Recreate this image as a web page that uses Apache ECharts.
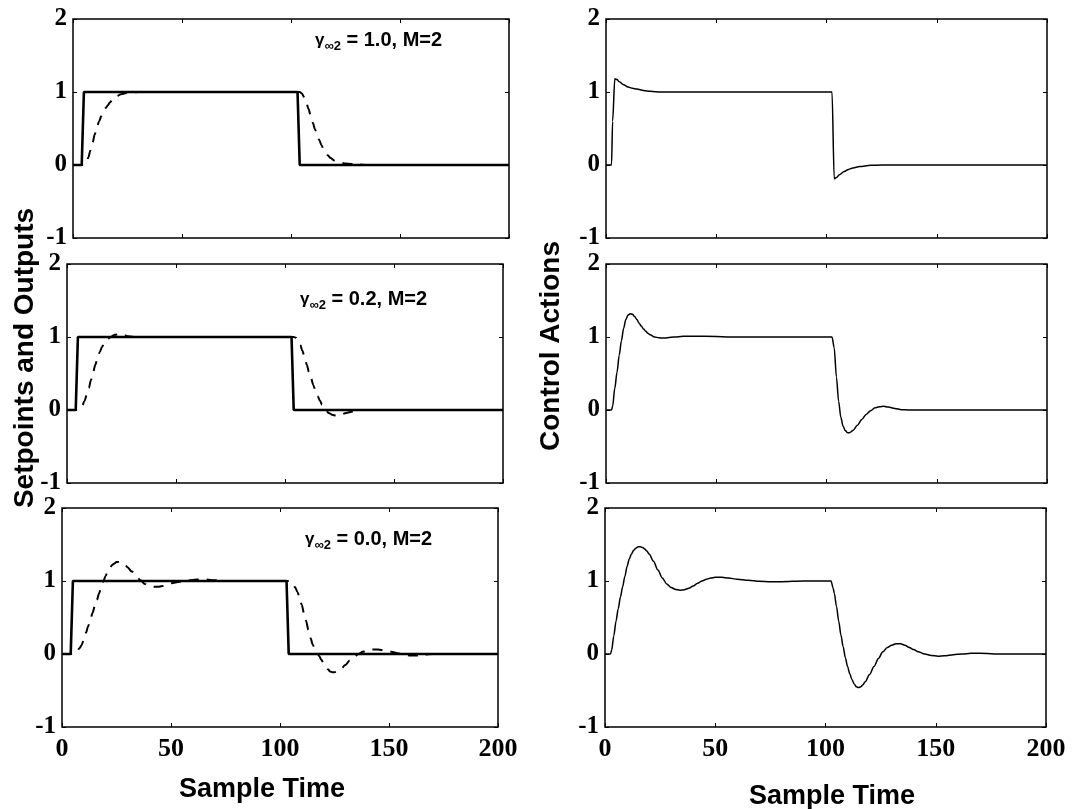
<!DOCTYPE html>
<html>
<head>
<meta charset="utf-8">
<script src="https://cdn.jsdelivr.net/npm/echarts@6/dist/echarts.min.js"></script>
<style>
html,body{margin:0;padding:0;background:#fff;}
#chart{width:1082px;height:809px;}
</style>
</head>
<body>
<div id="chart"></div>
<script>
// ---- data (sample time, value) ----
const setpoint = [[0,0],[4,0],[5,1],[103,1],[104,0],[200,0]];

const output1 = [[0,0],[5,0],[6,0.03],[7,0.1],[8,0.2],[9,0.31],[10,0.42],[11,0.52],[12,0.6],[13,0.67],[14,0.73],[15,0.78],[16,0.82],[17,0.86],[18,0.89],[20,0.94],[22,0.97],[25,0.99],[30,1.0],[104,1.0],[105,0.98],[106,0.93],[107,0.86],[108,0.77],[109,0.68],[110,0.58],[111,0.49],[112,0.41],[113,0.34],[114,0.27],[115,0.21],[116,0.17],[117,0.13],[118,0.1],[120,0.06],[122,0.04],[125,0.02],[130,0.01],[135,0],[200,0]];

const output2 = [[0,0],[5,0],[6,0.02],[7,0.06],[8,0.12],[9,0.2],[10,0.3],[11,0.41],[12,0.52],[13,0.62],[14,0.71],[15,0.79],[16,0.86],[17,0.91],[18,0.95],[19,0.98],[20,1.0],[22,1.03],[24,1.04],[26,1.03],[28,1.01],[32,1.0],[104,1.0],[105,0.99],[106,0.95],[107,0.89],[108,0.81],[109,0.72],[110,0.62],[111,0.52],[112,0.43],[113,0.34],[114,0.26],[115,0.19],[116,0.13],[117,0.07],[118,0.03],[119,-0.01],[120,-0.04],[122,-0.07],[124,-0.08],[126,-0.06],[128,-0.04],[131,-0.02],[135,0],[200,0]];

const output3 = [[0,0],[5,0],[6,0.01],[7,0.04],[8,0.08],[9,0.12],[10,0.2],[11,0.29],[12,0.38],[13,0.47],[14,0.56],[15,0.65],[16,0.74],[17,0.83],[18,0.92],[19,1.0],[20,1.07],[21,1.13],[22,1.18],[23,1.22],[24,1.24],[25,1.26],[26,1.26],[27,1.25],[28,1.24],[29,1.22],[30,1.19],[32,1.13],[34,1.07],[36,1.01],[38,0.96],[40,0.93],[42,0.92],[44,0.92],[46,0.93],[48,0.95],[50,0.97],[54,0.99],[58,1.01],[62,1.02],[66,1.02],[70,1.01],[75,1.0],[104,1.0],[105,0.99],[106,0.96],[107,0.91],[108,0.85],[109,0.77],[110,0.67],[111,0.56],[112,0.45],[113,0.33],[114,0.22],[115,0.13],[116,0.07],[117,0.02],[118,-0.03],[119,-0.08],[120,-0.13],[121,-0.17],[122,-0.21],[123,-0.24],[124,-0.25],[125,-0.25],[126,-0.24],[128,-0.2],[130,-0.15],[132,-0.09],[134,-0.04],[136,0.0],[138,0.03],[140,0.05],[142,0.06],[145,0.06],[148,0.05],[151,0.03],[154,0.01],[157,-0.01],[160,-0.02],[163,-0.02],[166,-0.01],[170,0],[200,0]];

const control1 = [[0,0],[2.5,0],[3,0.6],[4,1.18],[5,1.17],[6,1.14],[8,1.1],[10,1.07],[12,1.05],[14,1.04],[17,1.02],[20,1.01],[25,1.0],[102.5,1.0],[103.5,-0.19],[104.5,-0.17],[106,-0.13],[108,-0.09],[110,-0.06],[112,-0.04],[115,-0.02],[120,-0.005],[125,0],[200,0]];

const control2 = [[0,0],[2.5,0],[3,0.05],[4,0.3],[5,0.52],[6,0.75],[7,0.95],[8,1.12],[9,1.24],[10,1.3],[11,1.32],[12,1.31],[13,1.28],[14,1.24],[15,1.19],[16,1.15],[17,1.11],[18,1.08],[19,1.05],[20,1.03],[22,1.0],[24,0.99],[26,0.985],[28,0.99],[31,1.0],[35,1.01],[45,1.01],[60,1.0],[102.5,1.0],[103.5,0.85],[104.5,0.45],[105.5,0.12],[106.5,-0.1],[107.5,-0.22],[108.5,-0.28],[109.5,-0.31],[110.5,-0.31],[112,-0.28],[114,-0.21],[116,-0.13],[118,-0.06],[120,-0.01],[122,0.03],[124,0.045],[126,0.05],[128,0.04],[131,0.02],[134,0.005],[138,0],[200,0]];

const control3 = [[0,0],[2.5,0],[3,0.05],[4,0.25],[5,0.45],[6,0.62],[7,0.78],[8,0.92],[9,1.06],[10,1.2],[11,1.3],[12,1.37],[13,1.42],[14,1.45],[15,1.47],[16,1.47],[17,1.46],[18,1.44],[19,1.41],[20,1.37],[22,1.27],[24,1.15],[26,1.04],[28,0.96],[30,0.91],[32,0.885],[34,0.875],[36,0.88],[38,0.9],[40,0.93],[42,0.97],[44,1.0],[46,1.025],[48,1.04],[50,1.05],[53,1.05],[56,1.04],[60,1.025],[65,1.01],[70,0.995],[75,0.99],[80,0.99],[90,1.0],[102.5,1.0],[103.5,0.9],[104,0.83],[105,0.65],[106,0.45],[107,0.26],[108,0.1],[109,-0.05],[110,-0.17],[111,-0.27],[112,-0.35],[113,-0.41],[114,-0.45],[115,-0.46],[116,-0.45],[117,-0.42],[118,-0.38],[120,-0.28],[122,-0.17],[124,-0.06],[126,0.03],[128,0.09],[130,0.12],[132,0.14],[134,0.14],[136,0.12],[138,0.09],[140,0.06],[142,0.03],[145,0.0],[148,-0.02],[151,-0.03],[154,-0.025],[158,-0.01],[162,0.0],[166,0.01],[170,0.01],[180,0.0],[200,0]];

const gammaLabels = ['1.0', '0.2', '0.0'];
const xTickLabels = ['0', '50', '100', '150', '200'];
const yTickLabels = ['-1', '0', '1', '2'];
const yTitleLeft = 'Setpoints and Outputs';
const yTitleRight = 'Control Actions';
const xTitle = 'Sample Time';

// ---- layout ----
const panelH = 219;
const rowTops = [19, 264, 508];
const leftCols = [73, 67, 62];
const leftW = 436;
const rightCols = [606, 606, 605];
const rightW = 441;
const annLefts = [315, 300, 305];
const annTops = [27, 286, 526];

const grids = [];
const xAxes = [];
const yAxes = [];
const series = [];
const titles = [];

const tickFont = {fontFamily: 'Liberation Serif', fontWeight: 'bold', color: '#000'};
const tickStyle = {show: true, inside: true, length: 4, lineStyle: {color: '#000', width: 1}};

function addPanel(left, top, width, showX) {
  const gi = grids.length;
  grids.push({left: left, top: top, width: width, height: panelH, show: true,
    borderColor: '#000', borderWidth: 1.5, backgroundColor: 'transparent'});
  const xBase = {gridIndex: gi, type: 'value', min: 0, max: 200, interval: 50,
    splitLine: {show: false}, axisLine: {show: false, onZero: false}, axisTick: tickStyle};
  xAxes.push(Object.assign({}, xBase, {position: 'bottom',
    axisLabel: {show: showX, margin: 9, fontSize: 26, ...tickFont,
      formatter: v => xTickLabels[Math.round(v / 50)]}}));
  xAxes.push(Object.assign({}, xBase, {position: 'top', axisLabel: {show: false}}));
  const yBase = {gridIndex: gi, type: 'value', min: -1, max: 2, interval: 1,
    splitLine: {show: false}, axisLine: {show: false, onZero: false}, axisTick: tickStyle};
  yAxes.push(Object.assign({}, yBase, {position: 'left',
    axisLabel: {show: true, margin: 6, fontSize: 25, ...tickFont,
      formatter: v => yTickLabels[Math.round(v) + 1]}}));
  yAxes.push(Object.assign({}, yBase, {position: 'right', axisLabel: {show: false}}));
  return gi;
}

const outputs = [output1, output2, output3];
const controls = [control1, control2, control3];

for (let r = 0; r < 3; r++) {
  const gi = addPanel(leftCols[r], rowTops[r], leftW, r === 2);
  series.push({type: 'line', xAxisIndex: gi * 2, yAxisIndex: gi * 2, data: setpoint,
    showSymbol: false, lineStyle: {color: '#000', width: 2.6}, silent: true, animation: false});
  series.push({type: 'line', xAxisIndex: gi * 2, yAxisIndex: gi * 2, data: outputs[r],
    showSymbol: false, smooth: 0.3, smoothMonotone: 'x',
    lineStyle: {color: '#000', width: 2, type: [10, 8]}, silent: true, animation: false});
  titles.push({left: annLefts[r], top: annTops[r], padding: 0,
    text: '{g|γ}{s|∞2}{t| = ' + gammaLabels[r] + ', M=2}',
    textStyle: {rich: {
      g: {fontFamily: 'Liberation Sans', fontSize: 17, color: '#000', lineHeight: 26, verticalAlign: 'middle'},
      s: {fontFamily: 'Liberation Sans', fontWeight: 'bold', fontSize: 13, color: '#000', lineHeight: 26, padding: [12, 0, 0, 0]},
      t: {fontFamily: 'Liberation Sans', fontWeight: 'bold', fontSize: 20, color: '#000', lineHeight: 26, verticalAlign: 'middle'}
    }}});
}
for (let r = 0; r < 3; r++) {
  const gi = addPanel(rightCols[r], rowTops[r], rightW, r === 2);
  series.push({type: 'line', xAxisIndex: gi * 2, yAxisIndex: gi * 2, data: controls[r],
    showSymbol: false, smooth: 0.3, smoothMonotone: 'x',
    lineStyle: {color: '#000', width: 1.5}, silent: true, animation: false});
}

const titleFont = {fontFamily: 'Liberation Sans', fontWeight: 'bold', fontSize: 28, fill: '#000'};
const xTitleFont = {fontFamily: 'Liberation Sans', fontWeight: 'bold', fontSize: 27, fill: '#000'};
const graphic = [
  {type: 'text', x: 25, y: 358, rotation: Math.PI / 2,
    style: Object.assign({text: yTitleLeft, align: 'center', verticalAlign: 'middle'}, titleFont)},
  {type: 'text', x: 551, y: 346, rotation: Math.PI / 2,
    style: Object.assign({text: yTitleRight, align: 'center', verticalAlign: 'middle'}, titleFont)},
  {type: 'text', x: 262, y: 790,
    style: Object.assign({text: xTitle, align: 'center', verticalAlign: 'middle'}, xTitleFont)},
  {type: 'text', x: 832, y: 797,
    style: Object.assign({text: xTitle, align: 'center', verticalAlign: 'middle'}, xTitleFont)}
];

const chart = echarts.init(document.getElementById('chart'), null, {renderer: 'canvas'});
chart.setOption({
  animation: false,
  backgroundColor: '#fff',
  title: titles,
  grid: grids,
  xAxis: xAxes,
  yAxis: yAxes,
  series: series,
  graphic: graphic
});
</script>
</body>
</html>
